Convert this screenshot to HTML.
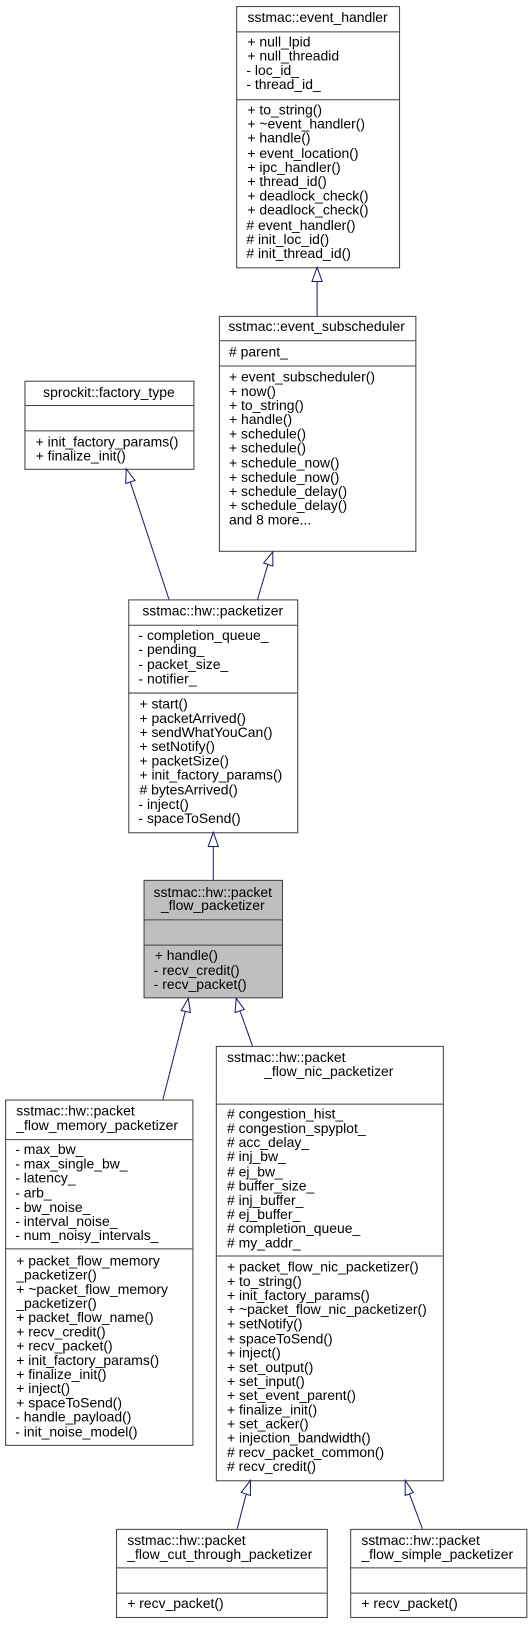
<!DOCTYPE html>
<html><head><meta charset="utf-8"><style>
body{margin:0;background:#fff}
svg text{font-family:"Liberation Sans",sans-serif;font-size:13.7px;fill:#000;dominant-baseline:central}
.b{fill:#fff;stroke:#404040;stroke-width:1}
.l{stroke:#404040;stroke-width:1}
.e{stroke:#191970;stroke-width:1;fill:none}
.h{fill:#fff;stroke:#191970;stroke-width:1}
.m{text-anchor:middle}
</style></head><body>
<svg width="532" height="1624" viewBox="0 0 532 1624" xmlns="http://www.w3.org/2000/svg">
<g transform="scale(1.018,1.0125)">
<!-- event_handler -->
<rect class="b" x="232.5" y="6.5" width="160" height="258"/>
<line class="l" x1="232" y1="31.5" x2="392" y2="31.5"/>
<line class="l" x1="232" y1="98.5" x2="392" y2="98.5"/>
<text class="m" x="312" y="17">sstmac::event_handler</text>
<text x="243" y="41">+ null_lpid</text>
<text x="243" y="55">+ null_threadid</text>
<text x="242" y="69">- loc_id_</text>
<text x="242" y="83">- thread_id_</text>
<text x="243" y="108">+ to_string()</text>
<text x="243" y="122">+ ~event_handler()</text>
<text x="243" y="136">+ handle()</text>
<text x="243" y="151">+ event_location()</text>
<text x="243" y="165">+ ipc_handler()</text>
<text x="243" y="179">+ thread_id()</text>
<text x="243" y="193">+ deadlock_check()</text>
<text x="243" y="207">+ deadlock_check()</text>
<text x="242" y="222">#  event_handler()</text>
<text x="242" y="236">#  init_loc_id()</text>
<text x="242" y="250">#  init_thread_id()</text>
<line class="e" x1="311.5" y1="278" x2="311.5" y2="312"/>
<polygon class="h" points="311.5,264 306.5,278 316.5,278"/>
<!-- event_subscheduler -->
<rect class="b" x="215.5" y="312.5" width="193" height="232"/>
<line class="l" x1="215" y1="336.5" x2="408" y2="336.5"/>
<line class="l" x1="215" y1="361.5" x2="408" y2="361.5"/>
<text class="m" x="311" y="322">sstmac::event_subscheduler</text>
<text x="225" y="347">#  parent_</text>
<text x="225" y="372">+ event_subscheduler()</text>
<text x="225" y="386">+ now()</text>
<text x="225" y="400">+ to_string()</text>
<text x="225" y="414">+ handle()</text>
<text x="225" y="428">+ schedule()</text>
<text x="225" y="442">+ schedule()</text>
<text x="225" y="457">+ schedule_now()</text>
<text x="225" y="471">+ schedule_now()</text>
<text x="225" y="485">+ schedule_delay()</text>
<text x="225" y="499">+ schedule_delay()</text>
<text x="225" y="513">and 8 more...</text>
<!-- factory_type -->
<rect class="b" x="24.5" y="376.5" width="166" height="87"/>
<line class="l" x1="24" y1="400.5" x2="190" y2="400.5"/>
<line class="l" x1="24" y1="425.5" x2="190" y2="425.5"/>
<text class="m" x="107" y="387">sprockit::factory_type</text>
<text x="35" y="436">+ init_factory_params()</text>
<text x="35" y="450">+ finalize_init()</text>
<line class="e" x1="128" y1="476" x2="166" y2="592"/>
<polygon class="h" points="124,463 123.5,477.5 132.5,474.5"/>
<line class="e" x1="263" y1="558" x2="253" y2="592"/>
<polygon class="h" points="268,545 259,556 268,559"/>
<!-- packetizer -->
<rect class="b" x="126.5" y="592.5" width="166" height="230"/>
<line class="l" x1="126" y1="617.5" x2="292" y2="617.5"/>
<line class="l" x1="126" y1="684.5" x2="292" y2="684.5"/>
<text class="m" x="209" y="603">sstmac::hw::packetizer</text>
<text x="136" y="627">- completion_queue_</text>
<text x="136" y="641">- pending_</text>
<text x="136" y="656">- packet_size_</text>
<text x="136" y="670">- notifier_</text>
<text x="137" y="695">+ start()</text>
<text x="137" y="709">+ packetArrived()</text>
<text x="137" y="723">+ sendWhatYouCan()</text>
<text x="137" y="737">+ setNotify()</text>
<text x="137" y="751">+ packetSize()</text>
<text x="137" y="765">+ init_factory_params()</text>
<text x="137" y="780">#  bytesArrived()</text>
<text x="136" y="794">- inject()</text>
<text x="136" y="808">- spaceToSend()</text>
<line class="e" x1="209.5" y1="836" x2="209.5" y2="869"/>
<polygon class="h" points="209.5,822 204.5,836 214.5,836"/>
<!-- packet_flow_packetizer -->
<rect x="141.5" y="869.5" width="136" height="116" fill="#bfbfbf" stroke="#404040"/>
<line class="l" x1="141" y1="908.5" x2="277" y2="908.5"/>
<line class="l" x1="141" y1="933.5" x2="277" y2="933.5"/>
<text class="m" x="209" y="881">sstmac::hw::packet</text>
<text class="m" x="209" y="894">_flow_packetizer</text>
<text x="152" y="943">+ handle()</text>
<text x="151" y="958">- recv_credit()</text>
<text x="151" y="972">- recv_packet()</text>
<line class="e" x1="182" y1="999" x2="160" y2="1086"/>
<polygon class="h" points="185,986 178,998 187,1000"/>
<line class="e" x1="236" y1="999" x2="248" y2="1033"/>
<polygon class="h" points="232,986 231,1000 240,997"/>
<!-- memory -->
<rect class="b" x="5.5" y="1086.5" width="184" height="341"/>
<line class="l" x1="5" y1="1125.5" x2="189" y2="1125.5"/>
<line class="l" x1="5" y1="1233.5" x2="189" y2="1233.5"/>
<text x="16" y="1097">sstmac::hw::packet</text>
<text x="16" y="1111">_flow_memory_packetizer</text>
<text x="15" y="1135">- max_bw_</text>
<text x="15" y="1149">- max_single_bw_</text>
<text x="15" y="1163">- latency_</text>
<text x="15" y="1178">- arb_</text>
<text x="15" y="1192">- bw_noise_</text>
<text x="15" y="1206">- interval_noise_</text>
<text x="15" y="1220">- num_noisy_intervals_</text>
<text x="16" y="1245">+ packet_flow_memory</text>
<text x="16" y="1259">_packetizer()</text>
<text x="16" y="1273">+ ~packet_flow_memory</text>
<text x="16" y="1287">_packetizer()</text>
<text x="16" y="1301">+ packet_flow_name()</text>
<text x="16" y="1315">+ recv_credit()</text>
<text x="16" y="1329">+ recv_packet()</text>
<text x="16" y="1343">+ init_factory_params()</text>
<text x="16" y="1357">+ finalize_init()</text>
<text x="16" y="1371">+ inject()</text>
<text x="16" y="1385">+ spaceToSend()</text>
<text x="15" y="1399">- handle_payload()</text>
<text x="15" y="1414">- init_noise_model()</text>
<!-- nic -->
<rect class="b" x="212.5" y="1033.5" width="223" height="429"/>
<line class="l" x1="212" y1="1090.5" x2="435" y2="1090.5"/>
<line class="l" x1="212" y1="1240.5" x2="435" y2="1240.5"/>
<text x="223" y="1044">sstmac::hw::packet</text>
<text class="m" x="323" y="1058">_flow_nic_packetizer</text>
<text x="223" y="1100">#  congestion_hist_</text>
<text x="223" y="1114">#  congestion_spyplot_</text>
<text x="223" y="1128">#  acc_delay_</text>
<text x="223" y="1142">#  inj_bw_</text>
<text x="223" y="1157">#  ej_bw_</text>
<text x="223" y="1171">#  buffer_size_</text>
<text x="223" y="1185">#  inj_buffer_</text>
<text x="223" y="1199">#  ej_buffer_</text>
<text x="223" y="1213">#  completion_queue_</text>
<text x="223" y="1227">#  my_addr_</text>
<text x="223" y="1251">+ packet_flow_nic_packetizer()</text>
<text x="223" y="1265">+ to_string()</text>
<text x="223" y="1279">+ init_factory_params()</text>
<text x="223" y="1293">+ ~packet_flow_nic_packetizer()</text>
<text x="223" y="1307">+ setNotify()</text>
<text x="223" y="1322">+ spaceToSend()</text>
<text x="223" y="1336">+ inject()</text>
<text x="223" y="1350">+ set_output()</text>
<text x="223" y="1364">+ set_input()</text>
<text x="223" y="1378">+ set_event_parent()</text>
<text x="223" y="1392">+ finalize_init()</text>
<text x="223" y="1406">+ set_acker()</text>
<text x="223" y="1420">+ injection_bandwidth()</text>
<text x="223" y="1434">#  recv_packet_common()</text>
<text x="223" y="1448">#  recv_credit()</text>
<line class="e" x1="242" y1="1475" x2="233" y2="1510"/>
<polygon class="h" points="246,1462 237,1474 246,1477"/>
<line class="e" x1="402" y1="1475" x2="415" y2="1510"/>
<polygon class="h" points="398,1462 398,1477 406,1474"/>
<!-- cut_through -->
<rect class="b" x="114.5" y="1510.5" width="207" height="87"/>
<line class="l" x1="114" y1="1548.5" x2="321" y2="1548.5"/>
<line class="l" x1="114" y1="1573.5" x2="321" y2="1573.5"/>
<text x="125" y="1521">sstmac::hw::packet</text>
<text x="125" y="1535">_flow_cut_through_packetizer</text>
<text x="125" y="1583">+ recv_packet()</text>
<!-- simple -->
<rect class="b" x="344.5" y="1510.5" width="173" height="87"/>
<line class="l" x1="344" y1="1548.5" x2="517" y2="1548.5"/>
<line class="l" x1="344" y1="1573.5" x2="517" y2="1573.5"/>
<text x="355" y="1521">sstmac::hw::packet</text>
<text x="355" y="1535">_flow_simple_packetizer</text>
<text x="355" y="1583">+ recv_packet()</text>
</g>
</svg>
</body></html>
